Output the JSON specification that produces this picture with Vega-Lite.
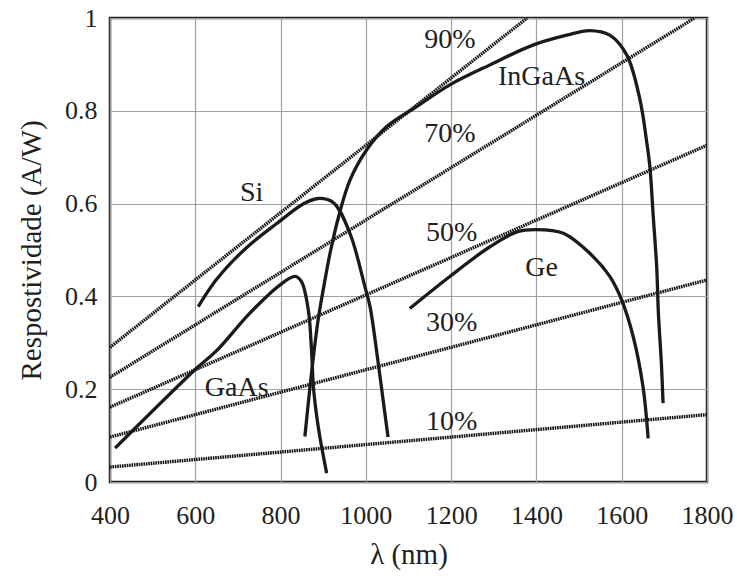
{
  "$schema": "https://vega.github.io/schema/vega-lite/v6.json",
  "width": 597,
  "height": 464,
  "autosize": {"type": "none"},
  "padding": {"left": 110, "top": 18, "right": 30, "bottom": 94},
  "background": "white",
  "config": {
    "view": {"stroke": "#231f20", "strokeWidth": 2.5},
    "axis": {
      "labelFont": "Liberation Serif",
      "titleFont": "Liberation Serif",
      "labelFontSize": 26,
      "titleFontSize": 29,
      "titleFontWeight": "normal",
      "labelColor": "#231f20",
      "titleColor": "#231f20",
      "gridColor": "#a0a0a0",
      "gridWidth": 1.2,
      "gridOpacity": 1,
      "ticks": false,
      "domain": false
    }
  },
  "datasets": {
    "eff": [
      {"eff": "90%", "lambda": 400, "R": 0.2903},
      {"eff": "90%", "lambda": 1378, "R": 1.0},
      {"eff": "70%", "lambda": 400, "R": 0.2258},
      {"eff": "70%", "lambda": 1771, "R": 1.0},
      {"eff": "50%", "lambda": 400, "R": 0.1613},
      {"eff": "50%", "lambda": 1800, "R": 0.7258},
      {"eff": "30%", "lambda": 400, "R": 0.0968},
      {"eff": "30%", "lambda": 1800, "R": 0.4355},
      {"eff": "10%", "lambda": 400, "R": 0.0323},
      {"eff": "10%", "lambda": 1800, "R": 0.1452}
    ],
    "curves": [
      {"material": "Si", "lambda": 607, "R": 0.378},
      {"material": "Si", "lambda": 650, "R": 0.437},
      {"material": "Si", "lambda": 720, "R": 0.505},
      {"material": "Si", "lambda": 791, "R": 0.557},
      {"material": "Si", "lambda": 853, "R": 0.599},
      {"material": "Si", "lambda": 888, "R": 0.611},
      {"material": "Si", "lambda": 924, "R": 0.602},
      {"material": "Si", "lambda": 963, "R": 0.535},
      {"material": "Si", "lambda": 998, "R": 0.42},
      {"material": "Si", "lambda": 1010, "R": 0.377},
      {"material": "Si", "lambda": 1028, "R": 0.263},
      {"material": "Si", "lambda": 1040, "R": 0.18},
      {"material": "Si", "lambda": 1052, "R": 0.097},
      {"material": "GaAs", "lambda": 412, "R": 0.073},
      {"material": "GaAs", "lambda": 603, "R": 0.245},
      {"material": "GaAs", "lambda": 650, "R": 0.283},
      {"material": "GaAs", "lambda": 728, "R": 0.364},
      {"material": "GaAs", "lambda": 799, "R": 0.425},
      {"material": "GaAs", "lambda": 834, "R": 0.443},
      {"material": "GaAs", "lambda": 849, "R": 0.432},
      {"material": "GaAs", "lambda": 865, "R": 0.371},
      {"material": "GaAs", "lambda": 873, "R": 0.277},
      {"material": "GaAs", "lambda": 877, "R": 0.205},
      {"material": "GaAs", "lambda": 885, "R": 0.14},
      {"material": "GaAs", "lambda": 892, "R": 0.098},
      {"material": "GaAs", "lambda": 908, "R": 0.019},
      {"material": "InGaAs", "lambda": 857, "R": 0.098},
      {"material": "InGaAs", "lambda": 865, "R": 0.17},
      {"material": "InGaAs", "lambda": 877, "R": 0.27},
      {"material": "InGaAs", "lambda": 888, "R": 0.349},
      {"material": "InGaAs", "lambda": 900, "R": 0.414},
      {"material": "InGaAs", "lambda": 916, "R": 0.493},
      {"material": "InGaAs", "lambda": 937, "R": 0.575},
      {"material": "InGaAs", "lambda": 963, "R": 0.651},
      {"material": "InGaAs", "lambda": 1002, "R": 0.716},
      {"material": "InGaAs", "lambda": 1049, "R": 0.766},
      {"material": "InGaAs", "lambda": 1119, "R": 0.809},
      {"material": "InGaAs", "lambda": 1197, "R": 0.856},
      {"material": "InGaAs", "lambda": 1291, "R": 0.899},
      {"material": "InGaAs", "lambda": 1393, "R": 0.942},
      {"material": "InGaAs", "lambda": 1471, "R": 0.963},
      {"material": "InGaAs", "lambda": 1525, "R": 0.973},
      {"material": "InGaAs", "lambda": 1572, "R": 0.963},
      {"material": "InGaAs", "lambda": 1612, "R": 0.92},
      {"material": "InGaAs", "lambda": 1643, "R": 0.823},
      {"material": "InGaAs", "lambda": 1658, "R": 0.737},
      {"material": "InGaAs", "lambda": 1666, "R": 0.68},
      {"material": "InGaAs", "lambda": 1674, "R": 0.572},
      {"material": "InGaAs", "lambda": 1682, "R": 0.464},
      {"material": "InGaAs", "lambda": 1686, "R": 0.364},
      {"material": "InGaAs", "lambda": 1693, "R": 0.256},
      {"material": "InGaAs", "lambda": 1697, "R": 0.17},
      {"material": "Ge", "lambda": 1103, "R": 0.374},
      {"material": "Ge", "lambda": 1197, "R": 0.443},
      {"material": "Ge", "lambda": 1291, "R": 0.507},
      {"material": "Ge", "lambda": 1354, "R": 0.539},
      {"material": "Ge", "lambda": 1400, "R": 0.544},
      {"material": "Ge", "lambda": 1463, "R": 0.536},
      {"material": "Ge", "lambda": 1525, "R": 0.493},
      {"material": "Ge", "lambda": 1572, "R": 0.443},
      {"material": "Ge", "lambda": 1600, "R": 0.392},
      {"material": "Ge", "lambda": 1627, "R": 0.313},
      {"material": "Ge", "lambda": 1650, "R": 0.205},
      {"material": "Ge", "lambda": 1662, "R": 0.094}
    ],
    "labels": [
      {"text": "Si", "lambda": 732, "R": 0.622},
      {"text": "GaAs", "lambda": 697, "R": 0.202},
      {"text": "InGaAs", "lambda": 1412, "R": 0.873},
      {"text": "Ge", "lambda": 1412, "R": 0.461},
      {"text": "90%", "lambda": 1197, "R": 0.953},
      {"text": "70%", "lambda": 1197, "R": 0.751},
      {"text": "50%", "lambda": 1201, "R": 0.536},
      {"text": "30%", "lambda": 1201, "R": 0.342},
      {"text": "10%", "lambda": 1201, "R": 0.13}
    ]
  },
  "encoding": {
    "x": {
      "field": "lambda",
      "type": "quantitative",
      "scale": {"domain": [400, 1800], "nice": false},
      "axis": {"values": [400, 600, 800, 1000, 1200, 1400, 1600, 1800], "format": "d", "title": "λ (nm)", "labelPadding": 20, "titlePadding": 12, "labelFlush": false}
    },
    "y": {
      "field": "R",
      "type": "quantitative",
      "scale": {"domain": [0, 1], "nice": false},
      "axis": {"values": [0, 0.2, 0.4, 0.6, 0.8, 1], "format": "~g", "title": "Respostividade (A/W)", "labelPadding": 13, "titlePadding": 18, "labelFlush": false}
    }
  },
  "layer": [
    {
      "data": {"name": "eff"},
      "mark": {"type": "line", "stroke": "#111111", "strokeWidth": 3.4, "strokeDash": [1.6, 0.8], "clip": true},
      "encoding": {"detail": {"field": "eff"}}
    },
    {
      "data": {"name": "curves"},
      "mark": {"type": "line", "stroke": "#1a1a1a", "strokeWidth": 3.3, "interpolate": "catmull-rom", "clip": true},
      "encoding": {"detail": {"field": "material"}}
    },
    {
      "data": {"name": "labels"},
      "mark": {"type": "text", "font": "Liberation Serif", "fontSize": 28, "color": "#231f20", "align": "center", "baseline": "middle"},
      "encoding": {"text": {"field": "text"}}
    }
  ]
}
